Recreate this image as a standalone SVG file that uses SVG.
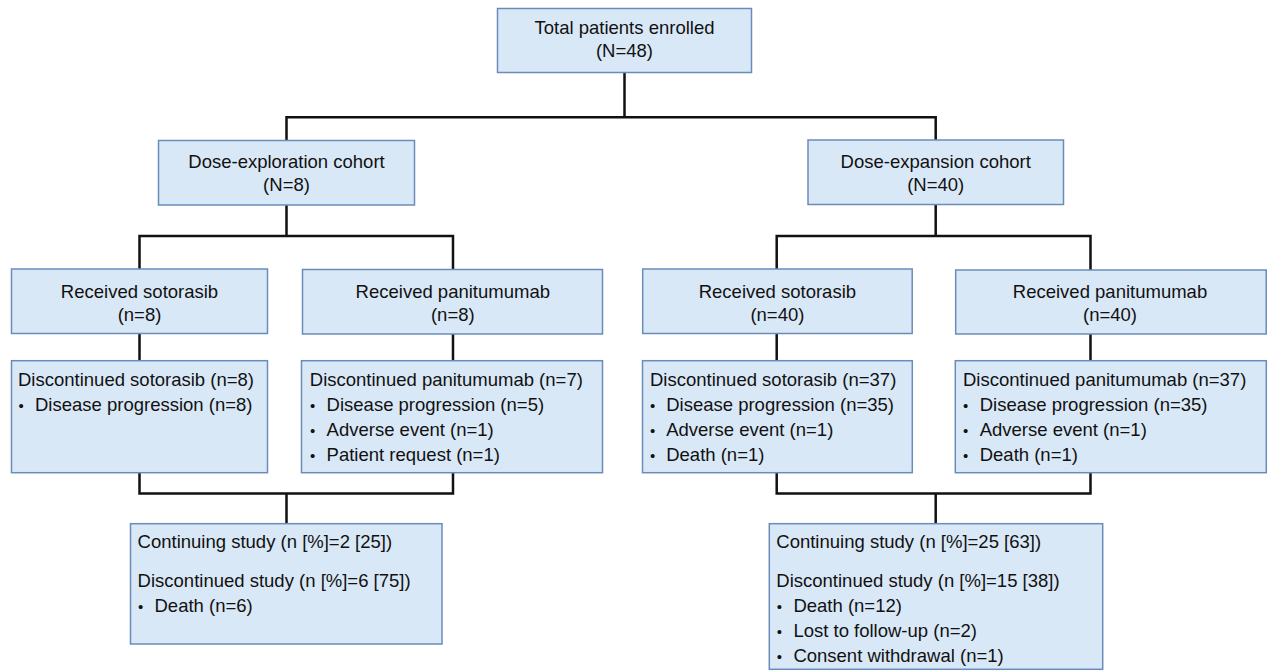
<svg xmlns="http://www.w3.org/2000/svg" width="1272" height="671" viewBox="0 0 1272 671">
<style>
.box{fill:#d9e8f7;stroke:#6b8cba;stroke-width:1.5}
.t{font-family:"Liberation Sans",Arial,sans-serif;font-size:18.5px;fill:#111}
.c{text-anchor:middle}
.b{font-size:15px}
.con{fill:none;stroke:#111;stroke-width:2.5}
</style>
<rect width="1272" height="671" fill="#fff"/>
<g id="connectors">
<path class="con" d="M624.5 72.7V117.3M286.5 140.3V117.3H935.7V140.3"/>
<path class="con" d="M286.5 205V236M139.5 269V236H453V269"/>
<path class="con" d="M935.7 204.3V236M776.7 269V236H1090.5V270"/>
<path class="con" d="M139.5 334V360.7M453 334V360.7M776.7 334V360.7M1090.5 334V360.7"/>
<path class="con" d="M139.5 472.7V493.5H453V472.7M286.5 493.5V523.7"/>
<path class="con" d="M776.7 472.7V493.5H1090.5V472.7M935.7 493.5V523.7"/>
</g>
<g id="total">
<rect class="box" x="497.5" y="8.5" width="254" height="64"/>
<text class="t c" x="624.5" y="34">Total patients enrolled</text>
<text class="t c" x="624.5" y="57">(N=48)</text>
</g>
<g id="exploration">
<rect class="box" x="158.5" y="140.5" width="256" height="64.5"/>
<text class="t c" x="286.5" y="168">Dose-exploration cohort</text>
<text class="t c" x="286.5" y="191">(N=8)</text>
</g>
<g id="expansion">
<rect class="box" x="808" y="140" width="255.5" height="64.5"/>
<text class="t c" x="935.7" y="168">Dose-expansion cohort</text>
<text class="t c" x="935.7" y="191">(N=40)</text>
</g>
<g id="recv-soto-1">
<rect class="box" x="11.5" y="269" width="256" height="64.5"/>
<text class="t c" x="139.5" y="297.5">Received sotorasib</text>
<text class="t c" x="139.5" y="320.5">(n=8)</text>
</g>
<g id="recv-pani-1">
<rect class="box" x="302.5" y="269.5" width="300" height="64.5"/>
<text class="t c" x="452.8" y="297.5">Received panitumumab</text>
<text class="t c" x="452.8" y="320.5">(n=8)</text>
</g>
<g id="recv-soto-2">
<rect class="box" x="642.7" y="269" width="269.5" height="64.5"/>
<text class="t c" x="777.4" y="297.5">Received sotorasib</text>
<text class="t c" x="777.4" y="320.5">(n=40)</text>
</g>
<g id="recv-pani-2">
<rect class="box" x="955.7" y="270" width="310.5" height="64"/>
<text class="t c" x="1110" y="297.5">Received panitumumab</text>
<text class="t c" x="1110" y="320.5">(n=40)</text>
</g>
<g id="disc-soto-1">
<rect class="box" x="11.5" y="360.7" width="256" height="112"/>
<text class="t" x="18" y="385.7">Discontinued sotorasib (n=8)</text>
<text class="t" y="410.7"><tspan class="b" x="18.5">•</tspan><tspan x="35">Disease progression (n=8)</tspan></text>
</g>
<g id="disc-pani-1">
<rect class="box" x="301.5" y="360.7" width="301" height="112"/>
<text class="t" x="309.8" y="385.7">Discontinued panitumumab (n=7)</text>
<text class="t" y="410.7"><tspan class="b" x="310">•</tspan><tspan x="326.6">Disease progression (n=5)</tspan></text>
<text class="t" y="435.7"><tspan class="b" x="310">•</tspan><tspan x="326.6">Adverse event (n=1)</tspan></text>
<text class="t" y="460.7"><tspan class="b" x="310">•</tspan><tspan x="326.6">Patient request (n=1)</tspan></text>
</g>
<g id="disc-soto-2">
<rect class="box" x="642.5" y="360.7" width="269.8" height="112"/>
<text class="t" x="650" y="385.7">Discontinued sotorasib (n=37)</text>
<text class="t" y="410.7"><tspan class="b" x="650">•</tspan><tspan x="666.2">Disease progression (n=35)</tspan></text>
<text class="t" y="435.7"><tspan class="b" x="650">•</tspan><tspan x="666.2">Adverse event (n=1)</tspan></text>
<text class="t" y="460.7"><tspan class="b" x="650">•</tspan><tspan x="666.2">Death (n=1)</tspan></text>
</g>
<g id="disc-pani-2">
<rect class="box" x="955.3" y="360.7" width="311" height="112"/>
<text class="t" x="963" y="385.7">Discontinued panitumumab (n=37)</text>
<text class="t" y="410.7"><tspan class="b" x="963">•</tspan><tspan x="979.7">Disease progression (n=35)</tspan></text>
<text class="t" y="435.7"><tspan class="b" x="963">•</tspan><tspan x="979.7">Adverse event (n=1)</tspan></text>
<text class="t" y="460.7"><tspan class="b" x="963">•</tspan><tspan x="979.7">Death (n=1)</tspan></text>
</g>
<g id="outcome-1">
<rect class="box" x="130.5" y="523.7" width="311.5" height="120.3"/>
<text class="t" x="137.6" y="548.3">Continuing study (n [%]=2 [25])</text>
<text class="t" x="137.6" y="586.7">Discontinued study (n [%]=6 [75])</text>
<text class="t" y="611.7"><tspan class="b" x="138">•</tspan><tspan x="154.5">Death (n=6)</tspan></text>
</g>
<g id="outcome-2">
<rect class="box" x="769.3" y="523.7" width="333.4" height="145.6"/>
<text class="t" x="776.3" y="548.3">Continuing study (n [%]=25 [63])</text>
<text class="t" x="776.3" y="586.7">Discontinued study (n [%]=15 [38])</text>
<text class="t" y="611.7"><tspan class="b" x="776.7">•</tspan><tspan x="793.4">Death (n=12)</tspan></text>
<text class="t" y="636.7"><tspan class="b" x="776.7">•</tspan><tspan x="793.4">Lost to follow-up (n=2)</tspan></text>
<text class="t" y="661.7"><tspan class="b" x="776.7">•</tspan><tspan x="793.4">Consent withdrawal (n=1)</tspan></text>
</g>
</svg>
